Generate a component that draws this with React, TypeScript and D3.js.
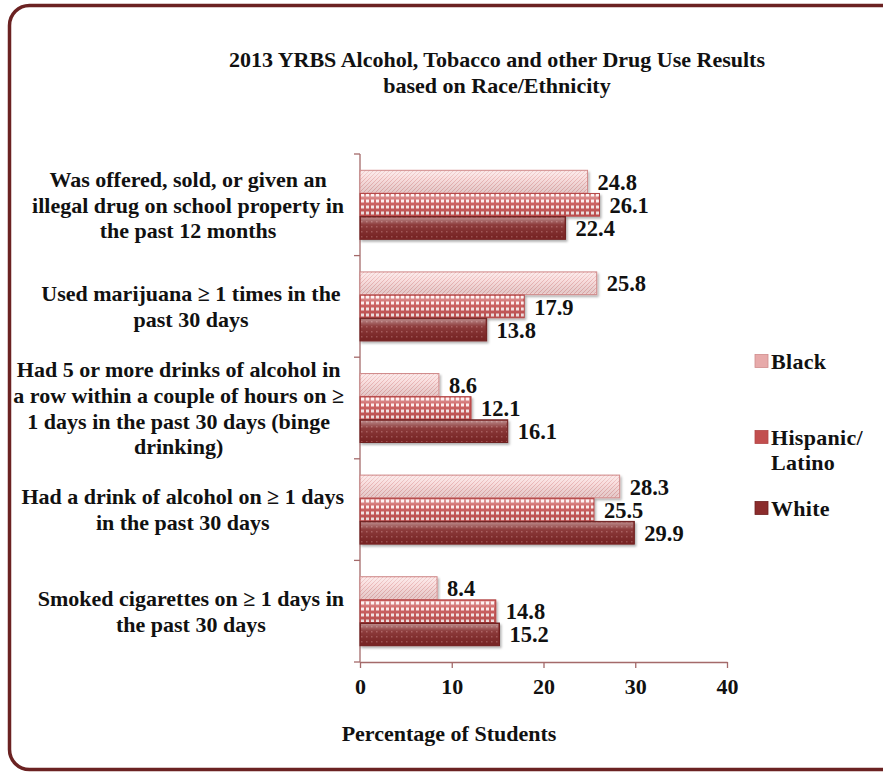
import React, { useEffect, useRef } from "react";
import * as d3 from "d3";

const categories = [
  "Was offered, sold, or given an|illegal drug on school property in|the past 12 months",
  "Used marijuana ≥ 1 times in the|past 30 days",
  "Had 5 or more drinks of alcohol in|a row within a couple of hours on ≥|1 days in the past 30 days (binge|drinking)",
  "Had a drink of alcohol on ≥ 1 days|in the past 30 days",
  "Smoked cigarettes on ≥ 1 days in|the past 30 days",
];
const seriesNames = ["Black", "Hispanic/Latino", "White"];
const blackValues = [24.8, 25.8, 8.6, 28.3, 8.4];
const hispanicValues = [26.1, 17.9, 12.1, 25.5, 14.8];
const whiteValues = [22.4, 13.8, 16.1, 29.9, 15.2];
const xTicks = [0, 10, 20, 30, 40];
const titleLines = ["2013 YRBS Alcohol, Tobacco and other Drug Use Results", "based on Race/Ethnicity"];
const xTitle = "Percentage of Students";

const W = 883;
const H = 772;
const FONT = "'Liberation Serif', 'Times New Roman', serif";

export default function App() {
  const ref = useRef<SVGSVGElement | null>(null);

  useEffect(() => {
    const svg = d3.select(ref.current);
    svg.selectAll("*").remove();

    const defs = svg.append("defs");
    const p1 = defs.append("pattern").attr("id", "pBlack").attr("patternUnits", "userSpaceOnUse")
      .attr("width", 4).attr("height", 4);
    p1.append("rect").attr("width", 4).attr("height", 4).attr("fill", "#f8dada");
    p1.append("path").attr("d", "M-1,1 L1,-1 M0,4 L4,0 M3,5 L5,3").attr("stroke", "#e8b0b0").attr("stroke-width", 1);
    const p2 = defs.append("pattern").attr("id", "pHisp").attr("patternUnits", "userSpaceOnUse")
      .attr("width", 5).attr("height", 6);
    p2.append("rect").attr("width", 5).attr("height", 6).attr("fill", "#c95454");
    p2.append("rect").attr("x", 1).attr("y", 1.5).attr("width", 3).attr("height", 3).attr("fill", "#fcecec");
    const p3 = defs.append("pattern").attr("id", "pWhite").attr("patternUnits", "userSpaceOnUse")
      .attr("width", 5).attr("height", 5);
    p3.append("rect").attr("width", 5).attr("height", 5).attr("fill", "#802828");
    p3.append("rect").attr("x", 1).attr("y", 1).attr("width", 1.5).attr("height", 1.5).attr("fill", "#a35252");
    const g = defs.append("linearGradient").attr("id", "sheen").attr("x1", 0).attr("y1", 0).attr("x2", 0).attr("y2", 1);
    g.append("stop").attr("offset", "0%").attr("stop-color", "#fff").attr("stop-opacity", 0.45);
    g.append("stop").attr("offset", "35%").attr("stop-color", "#fff").attr("stop-opacity", 0.1);
    g.append("stop").attr("offset", "100%").attr("stop-color", "#000").attr("stop-opacity", 0.08);
    const f = defs.append("filter").attr("id", "shadow").attr("x", "-5%").attr("y", "-20%").attr("width", "110%").attr("height", "160%");
    f.append("feDropShadow").attr("dx", 1.5).attr("dy", 2).attr("stdDeviation", 1.2).attr("flood-color", "#000").attr("flood-opacity", 0.3);

    const fills = ["url(#pBlack)", "url(#pHisp)", "url(#pWhite)"];
    const strokes = ["#d08c8c", "#b24646", "#6e2020"];
    const legendFills = ["#e7aaaa", "#c24e4e", "#8b2c2c"];

    svg.append("rect").attr("x", 9.5).attr("y", 5.5).attr("width", 900).attr("height", 764)
      .attr("rx", 20).attr("ry", 20).attr("fill", "#fff").attr("stroke", "#6b2222").attr("stroke-width", 3.5);

    svg.append("g").selectAll("text").data(titleLines).join("text")
      .attr("x", 497).attr("y", (_, i) => 67 + i * 26).attr("text-anchor", "middle")
      .attr("font-family", FONT).attr("font-weight", "bold").attr("font-size", 22).attr("fill", "#111")
      .text(d => d);

    const x = d3.scaleLinear().domain([0, 40]).range([360, 727]);
    const y = d3.scaleBand().domain(categories).range([154, 662]);
    const groupH = 69;
    const inner = d3.scaleBand().domain(seriesNames).range([0, groupH]).paddingInner(0.02);
    const seriesValues = [blackValues, hispanicValues, whiteValues];

    const axisColor = "#a46a6a";
    const xAxis = svg.append("g").attr("transform", `translate(0,${662})`)
      .call(d3.axisBottom(x).tickValues(xTicks).tickSize(6).tickSizeOuter(0));
    xAxis.select(".domain").attr("stroke", axisColor).attr("stroke-width", 1.3);
    xAxis.selectAll(".tick line").attr("stroke", axisColor).attr("stroke-width", 1.3);
    xAxis.selectAll(".tick text").attr("font-family", FONT).attr("font-weight", "bold")
      .attr("font-size", 22).attr("fill", "#111").attr("dy", "1.05em");

    svg.append("line").attr("x1", 360).attr("x2", 360).attr("y1", 154).attr("y2", 662)
      .attr("stroke", axisColor).attr("stroke-width", 1.3);
    const bounds = [154, ...categories.map(c => (y(c) as number) + y.bandwidth())];
    svg.append("g").selectAll("line").data(bounds).join("line")
      .attr("x1", 354).attr("x2", 360).attr("y1", d => d).attr("y2", d => d)
      .attr("stroke", axisColor).attr("stroke-width", 1.3);

    seriesNames.forEach((s, si) => {
      const gs = svg.append("g");
      categories.forEach((c, ci) => {
        const v = seriesValues[si][ci];
        const by = (y(c) as number) + (y.bandwidth() - groupH) / 2 + (inner(s) as number);
        const bh = inner.bandwidth();
        gs.append("rect").attr("x", x(0)).attr("y", by).attr("width", x(v) - x(0)).attr("height", bh)
          .attr("fill", fills[si]).attr("stroke", strokes[si]).attr("stroke-width", 1).attr("filter", "url(#shadow)");
        gs.append("rect").attr("x", x(0) + 1).attr("y", by + 1).attr("width", x(v) - x(0) - 2).attr("height", bh - 2)
          .attr("fill", "url(#sheen)");
        gs.append("text").attr("x", x(v) + 10).attr("y", by + bh / 2).attr("dy", "0.36em")
          .attr("font-family", FONT).attr("font-weight", "bold").attr("font-size", 22.5).attr("fill", "#111")
          .text(v.toFixed(1));
      });
    });

    categories.forEach(c => {
      const lines = c.split("|");
      const t = svg.append("text").attr("font-family", FONT).attr("font-weight", "bold")
        .attr("font-size", 22).attr("fill", "#111").attr("text-anchor", "middle");
      const lh = 25.8;
      const cy = (y(c) as number) + y.bandwidth() / 2;
      const spans = lines.map((l, i) => t.append("tspan").attr("y", cy + (i - (lines.length - 1) / 2) * lh).attr("dy", "0.35em").text(l));
      let maxW = 0;
      spans.forEach(sp => { maxW = Math.max(maxW, (sp.node() as SVGTextContentElement).getComputedTextLength()); });
      const cx = Math.min(191, 344 - maxW / 2);
      spans.forEach(sp => sp.attr("x", cx));
    });

    const legendY = [361, 437, 508];
    seriesNames.forEach((s, i) => {
      const ly = legendY[i];
      svg.append("rect").attr("x", 755).attr("y", ly - 6.5).attr("width", 13).attr("height", 13)
        .attr("fill", legendFills[i]).attr("stroke", strokes[i]).attr("stroke-width", 0.8);
      const parts = s === "Hispanic/Latino" ? ["Hispanic/", "Latino"] : [s];
      const t = svg.append("text").attr("font-family", FONT).attr("font-weight", "bold").attr("font-size", 22)
        .attr("letter-spacing", 0.3).attr("fill", "#111");
      parts.forEach((p, j) => t.append("tspan").attr("x", 771).attr("y", ly + j * 25.5).attr("dy", "0.35em").text(p));
    });

    svg.append("text").attr("x", 449).attr("y", 733).attr("dy", "0.35em").attr("text-anchor", "middle")
      .attr("font-family", FONT).attr("font-weight", "bold").attr("font-size", 22).attr("fill", "#111")
      .text(xTitle);
  }, []);

  return (
    <svg ref={ref} width={W} height={H} style={{ position: "absolute", left: 0, top: 0, background: "#fff" }} />
  );
}
